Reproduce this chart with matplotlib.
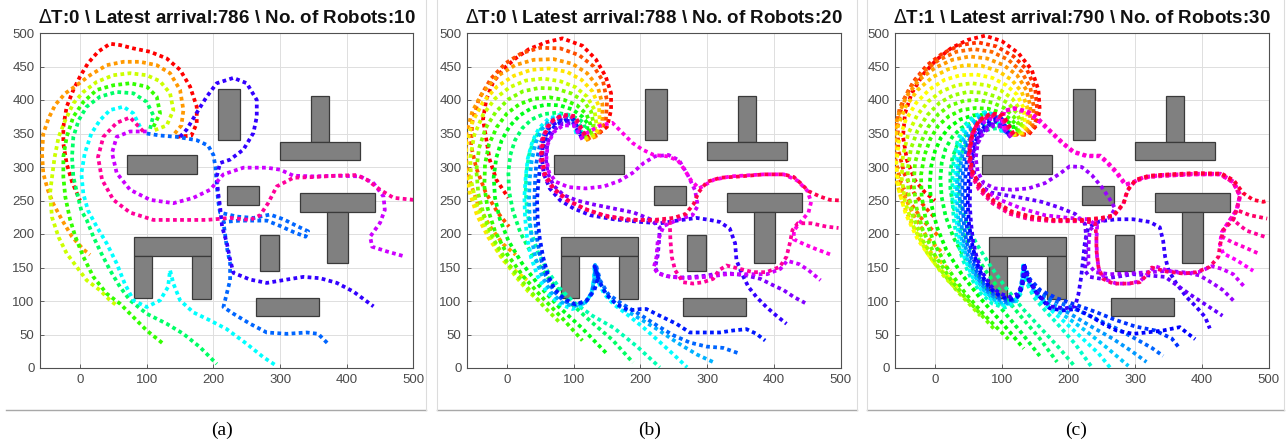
import matplotlib.pyplot as plt
import numpy as np
from matplotlib.colors import hsv_to_rgb
from matplotlib.patches import Rectangle

# obstacles (x, y, width, height), same map in all three runs
obstacles = [(70, 290, 105, 28), (207, 340, 33, 76), (347, 337, 26, 69), (300, 310, 120, 27),
             (221, 243, 47, 29), (330, 233, 112, 28), (370, 157, 32, 76), (270, 145, 28, 53),
             (264, 77, 94, 28), (81, 167, 115, 29), (81, 104, 27, 63), (168, 103, 28, 64)]

titles = [r"$\Delta$T:0 \ Latest arrival:786 \ No. of Robots:10",
          r"$\Delta$T:0 \ Latest arrival:788 \ No. of Robots:20",
          r"$\Delta$T:1 \ Latest arrival:790 \ No. of Robots:30"]
captions = ["(a)", "(b)", "(c)"]
xticks = [0, 100, 200, 300, 400, 500]
yticks = [0, 50, 100, 150, 200, 250, 300, 350, 400, 450, 500]

# robot paths, one list of waypoints per robot (colour order = hsv)
paths_a = [
    [(145,345),(167,347),(175,365),(175,390),(165,420),(150,445),(130,462),(105,472),(80,477),(60,482),(45,484),(27,472),(12,455),(0,435),(-10,415),(-20,390),(-25,360),(-25,335),(-20,305),(-12,278),(0,250)],
    [(142,350),(152,362),(155,385),(150,415),(135,440),(115,452),(90,457),(65,457),(40,452),(15,437),(-5,422),(-22,410),(-37,393),(-47,373),(-55,350),(-57,320),(-55,290),(-48,265),(-40,245),(-27,221),(-12,196),(5,177),(15,169)],
    [(112,355),(130,362),(140,385),(135,410),(120,428),(100,437),(75,440),(50,437),(25,427),(5,412),(-10,395),(-22,370),(-32,345),(-38,315),(-42,285),(-45,260),(-42,225),(-32,195),(-20,171),(-5,151),(10,131),(30,116),(45,101),(57,92)],
    [(110,360),(120,380),(115,405),(100,420),(75,425),(50,422),(25,415),(5,397),(-10,375),(-20,345),(-25,315),(-25,285),(-22,255),(-15,222),(-7,196),(5,166),(20,136),(40,111),(60,96),(80,76),(100,56),(125,36)],
    [(105,357),(110,377),(100,397),(80,410),(55,412),(30,405),(10,390),(-2,370),(-10,345),(-12,315),(-10,285),(-3,255),(2,235),(10,221),(20,196),(32,171),(45,146),(60,121),(75,101),(100,81),(130,66),(155,51),(180,31),(205,6)],
    [(90,360),(80,380),(65,390),(45,385),(30,370),(17,350),(7,320),(2,290),(5,260),(12,235),(25,211),(40,186),(55,156),(67,126),(80,101),(100,91),(120,101),(132,121),(135,146),(140,126),(150,101),(170,83),(195,71),(220,58),(250,36),(275,16),(295,3)],
    [(100,350),(120,347),(145,345),(175,340),(192,332),(200,318),(203,300),(205,275),(207,250),(210,232),(235,226),(260,224),(285,229),(305,222),(325,212),(342,204),(338,196),(320,203),(300,212),(280,220),(240,220),(215,218),(220,181),(225,156),(225,131),(220,111),(215,91),(230,81),(255,66),(280,53),(310,51),(340,53),(357,51),(372,36)],
    [(150,345),(160,356),(175,381),(190,405),(205,425),(230,433),(250,425),(265,400),(265,375),(260,351),(245,326),(225,311),(210,306),(205,286),(207,262),(210,241),(213,211),(220,187),(225,162),(230,142),(255,132),(280,127),(310,132),(335,136),(360,134),(385,127),(410,114),(440,92)],
    [(100,353),(75,353),(55,345),(48,321),(55,291),(75,266),(105,251),(140,246),(170,254),(195,266),(215,289),(245,299),(280,299),(300,296),(320,287),(350,286),(385,287),(420,286),(440,276),(455,256),(457,236),(450,217),(435,196),(438,181),(460,174),(485,167)],
    [(95,353),(75,374),(55,366),(35,345),(27,315),(33,281),(50,251),(75,232),(110,221),(150,221),(190,221),(225,224),(255,221),(270,228),(282,246),(295,271),(320,284),(350,285),(385,287),(415,288),(430,281),(450,266),(470,254),(500,251)],
]

paths_b = [
    [(118,345),(135,348),(150,360),(156,385),(156,410),(148,435),(133,461),(113,481),(83,492),(58,486),(33,476),(14,463),(-6,446),(-21,426),(-31,401),(-36,371),(-31,341),(-26,311),(-16,281),(2,254)],
    [(120,342),(138,348),(148,368),(150,398),(144,428),(130,450),(108,467),(80,477),(50,478),(22,470),(-2,455),(-24,432),(-42,402),(-52,368),(-54,332),(-46,298),(-32,262),(-14,232),(3,211)],
    [(118,340),(135,346),(143,366),(143,394),(136,420),(120,440),(98,454),(70,461),(40,460),(12,452),(-14,436),(-36,412),(-52,383),(-61,350),(-62,315),(-56,280),(-44,245),(-26,212),(-6,185),(13,169)],
    [(116,342),(132,347),(139,365),(138,390),(128,413),(112,430),(90,442),(63,447),(36,445),(10,436),(-15,420),(-36,397),(-52,367),(-61,332),(-62,297),(-56,262),(-45,228),(-28,195),(-5,160),(15,143),(30,131)],
    [(115,344),(129,349),(134,364),(131,386),(120,405),(103,419),(80,428),(54,432),(28,429),(4,419),(-18,402),(-36,378),(-49,348),(-55,314),(-54,280),(-46,245),(-32,210),(-12,172),(12,138),(32,114),(53,96)],
    [(114,346),(126,351),(130,363),(126,383),(114,399),(96,410),(73,417),(48,418),(24,413),(2,401),(-17,382),(-32,358),(-42,328),(-46,295),(-43,260),(-34,225),(-19,190),(2,155),(28,123),(55,92),(81,66)],
    [(113,347),(123,353),(125,364),(119,379),(105,392),(86,400),(64,404),(41,402),(19,394),(0,380),(-15,360),(-27,334),(-33,304),(-34,271),(-29,238),(-18,204),(0,170),(25,136),(55,103),(85,72),(113,41)],
    [(112,348),(120,356),(121,365),(113,375),(98,386),(79,392),(58,393),(37,388),(19,377),(4,361),(-8,340),(-16,314),(-20,285),(-18,254),(-11,223),(2,190),(22,157),(48,123),(78,91),(112,60),(150,21)],
    [(111,349),(117,358),(115,366),(107,372),(92,378),(74,381),(55,379),(37,371),(23,358),(12,340),(5,318),(2,292),(3,264),(9,234),(20,202),(38,168),(62,134),(92,100),(125,70),(158,42),(189,8)],
    [(110,350),(113,358),(108,364),(96,368),(80,370),(64,366),(50,356),(40,340),(33,318),(29,292),(28,264),(30,234),(36,204),(46,174),(60,146),(78,120),(100,98),(128,78),(160,60),(195,32),(229,1)],
    [(104,350),(95,378),(79,378),(62,372),(48,358),(38,338),(31,312),(28,285),(26,255),(27,225),(30,195),(36,165),(46,137),(60,113),(78,96),(98,88),(115,94),(126,110),(130,132),(131,152),(137,128),(146,110),(160,95),(180,80),(205,60),(230,38),(252,18),(270,1)],
    [(106,350),(96,376),(80,376),(64,370),(52,356),(43,336),(37,310),(34,282),(33,252),(34,222),(37,192),(43,163),(53,136),(66,113),(82,98),(100,92),(117,97),(127,112),(131,134),(132,154),(139,128),(150,108),(168,92),(195,76),(225,58),(255,38),(285,20),(311,8)],
    [(108,350),(98,373),(83,372),(68,366),(57,352),(49,332),(44,306),(42,278),(41,250),(42,222),(45,193),(50,165),(58,138),(70,115),(85,100),(102,94),(118,99),(128,114),(132,135),(133,155),(140,130),(152,110),(172,96),(199,80),(224,64),(249,49),(274,38),(299,32),(324,30),(350,21)],
    [(110,350),(100,371),(86,369),(72,362),(62,348),(55,330),(50,305),(47,278),(45,250),(46,222),(49,194),(54,166),(61,140),(71,118),(86,103),(103,95),(120,101),(131,116),(137,136),(131,152),(138,130),(148,111),(163,96),(183,86),(201,88),(209,88),(229,78),(254,66),(274,53),(299,53),(319,53),(339,56),(359,58),(374,51),(387,41)],
    [(112,344),(98,368),(80,370),(64,360),(55,340),(52,315),(55,290),(64,268),(80,250),(100,238),(125,228),(160,222),(200,218),(230,216),(255,220),(284,224),(304,221),(319,218),(334,208),(342,186),(344,161),(352,141),(362,121),(374,106),(389,91),(404,78),(419,66)],
    [(114,342),(100,365),(84,365),(70,355),(61,337),(58,314),(61,291),(70,272),(85,258),(105,250),(130,244),(160,238),(190,232),(215,222),(229,210),(228,190),(226,168),(222,150),(226,142),(240,137),(260,135),(280,136),(300,138),(315,141),(335,141),(359,138),(380,133),(400,123),(415,116),(430,106),(447,97)],
    [(113,341),(100,362),(84,362),(70,352),(61,334),(59,312),(63,292),(73,278),(92,270),(118,268),(145,271),(168,279),(188,291),(205,306),(222,316),(242,318),(258,310),(270,290),(282,265),(286,242),(278,228),(258,222),(235,212),(226,190),(224,165),(220,150),(226,141),(245,136),(270,134),(300,136),(330,140),(360,140),(390,140),(410,148),(420,160),(438,155),(452,146),(470,131)],
    [(118,350),(140,362),(158,366),(168,356),(178,346),(188,336),(203,326),(220,318),(240,316),(256,310),(266,296),(276,280),(288,268),(310,281),(335,286),(385,289),(415,289),(435,280),(450,265),(456,248),(452,232),(440,218),(430,205),(430,192),(445,185),(462,178),(486,169)],
    [(116,346),(100,374),(80,376),(62,364),(52,340),(50,312),(56,286),(70,266),(90,250),(115,238),(145,228),(180,222),(215,220),(244,218),(245,191),(247,166),(252,146),(264,128),(279,126),(294,128),(309,133),(318,146),(329,153),(349,148),(369,143),(389,143),(409,151),(419,166),(424,186),(428,206),(436,216),(456,216),(479,211),(497,209)],
    [(117,348),(102,376),(84,378),(66,368),(55,346),(52,318),(57,290),(70,268),(92,250),(120,236),(150,226),(185,221),(220,221),(250,224),(268,230),(280,245),(287,262),(300,278),(320,284),(350,286),(385,289),(415,289),(430,285),(440,276),(452,264),(469,256),(484,251),(500,250)],
]

paths_c = [
    [(120,350),(140,348),(152,362),(157,385),(155,415),(145,445),(125,470),(100,488),(75,496),(50,490),(25,478),(2,460),(-18,438),(-35,410),(-45,380),(-48,345),(-42,310),(-30,280),(-15,262),(0,250)],
    [(119,349),(138,348),(150,362),(153,388),(150,418),(138,445),(118,465),(92,480),(65,486),(38,482),(12,470),(-12,452),(-32,428),(-48,398),(-56,362),(-55,325),(-46,290),(-32,262),(-15,240),(1,223)],
    [(118,348),(136,349),(146,362),(148,390),(143,418),(130,442),(110,460),(85,472),(58,476),(32,472),(6,460),(-18,442),(-38,418),(-53,388),(-60,352),(-60,315),(-52,280),(-38,248),(-18,220),(6,196)],
    [(117,348),(134,350),(142,364),(143,390),(137,415),(123,437),(103,452),(78,462),(52,465),(26,460),(0,448),(-24,430),(-43,405),(-56,375),(-62,340),(-60,303),(-50,265),(-34,232),(-12,195),(13,170)],
    [(116,348),(132,351),(139,364),(138,390),(130,412),(115,430),(95,443),(70,451),(45,452),(20,446),(-4,434),(-26,415),(-44,390),(-56,360),(-62,325),(-60,288),(-50,250),(-35,215),(-12,178),(23,145)],
    [(115,348),(130,352),(135,364),(133,388),(123,408),(107,422),(86,433),(62,438),(38,437),(14,430),(-8,416),(-28,396),(-44,370),(-54,340),(-58,305),(-55,268),(-44,230),(-26,192),(0,155),(36,121)],
    [(114,348),(128,353),(132,365),(128,385),(116,402),(99,414),(78,422),(55,425),(32,422),(10,413),(-10,398),(-27,377),(-40,350),(-48,318),(-50,284),(-45,248),(-32,210),(-12,172),(15,135),(51,99)],
    [(113,349),(126,354),(129,365),(123,380),(110,395),(92,405),(71,411),(49,412),(27,407),(7,396),(-11,378),(-26,355),(-36,328),(-41,296),(-40,262),(-33,226),(-18,190),(4,152),(33,115),(68,78)],
    [(112,349),(124,355),(125,365),(118,375),(104,388),(86,396),(65,400),(44,399),(23,392),(5,379),(-10,360),(-22,335),(-30,306),(-32,274),(-28,240),(-18,205),(0,168),(25,130),(55,95),(88,59)],
    [(111,350),(121,356),(121,364),(114,371),(99,381),(80,387),(60,388),(40,385),(21,376),(5,362),(-7,342),(-16,317),(-21,288),(-20,256),(-14,222),(-2,188),(18,150),(45,112),(75,78),(110,43)],
    [(110,350),(118,357),(117,363),(110,367),(94,374),(76,378),(57,377),(38,371),(22,360),(9,344),(0,324),(-6,300),(-8,272),(-5,242),(3,210),(17,176),(40,140),(68,104),(100,68),(133,29)],
    [(109,351),(115,357),(112,362),(104,364),(91,367),(73,369),(55,366),(39,358),(26,345),(16,328),(10,306),(8,282),(10,255),(16,226),(28,194),(47,160),(72,124),(100,88),(130,52),(157,18)],
    [(108,351),(112,357),(108,360),(100,361),(88,362),(72,360),(56,355),(43,345),(33,332),(26,314),(23,292),(23,268),(27,242),(36,214),(52,182),(74,148),(100,112),(128,78),(157,44),(183,9)],
    [(107,352),(109,356),(104,358),(96,358),(86,357),(72,354),(59,348),(49,338),(41,324),(36,306),(34,285),(35,262),(40,238),(49,212),(63,184),(82,154),(106,120),(132,88),(160,58),(186,30),(209,3)],
    [(100,352),(90,378),(75,382),(58,376),(44,362),(34,340),(28,312),(26,282),(26,252),(28,222),(33,192),(41,163),(53,136),(68,112),(86,96),(104,90),(120,96),(129,112),(132,134),(132,152),(137,128),(148,106),(165,86),(187,62),(210,36),(236,0)],
    [(102,352),(92,378),(77,381),(60,374),(47,360),(38,338),(32,310),(30,280),(30,250),(32,220),(37,190),(45,162),(56,136),(71,114),(88,99),(105,93),(120,99),(128,114),(131,135),(132,153),(138,128),(150,108),(170,90),(195,68),(220,45),(245,22),(263,0)],
    [(104,352),(94,377),(79,380),(63,373),(50,359),(41,337),(35,309),(33,280),(33,250),(35,220),(40,191),(48,163),(59,138),(73,116),(90,101),(106,95),(120,100),(128,115),(131,136),(132,153),(139,130),(152,110),(172,93),(200,74),(228,54),(258,30),(290,3)],
    [(106,351),(96,376),(82,378),(66,371),(54,357),(45,336),(39,308),(37,279),(37,249),(39,219),(43,190),(51,162),(62,137),(76,116),(92,103),(108,97),(121,102),(128,116),(131,137),(133,154),(140,131),(154,112),(176,96),(204,80),(234,62),(266,44),(295,25),(317,9)],
    [(108,350),(98,374),(85,376),(70,369),(58,355),(49,334),(43,307),(41,278),(41,248),(43,218),(47,189),(55,162),(65,138),(78,118),(94,105),(110,99),(122,104),(129,118),(132,138),(133,155),(141,132),(156,114),(180,100),(210,88),(240,74),(270,60),(300,44),(325,30),(342,18)],
    [(110,349),(100,372),(88,374),(74,367),(62,353),(53,332),(47,305),(45,276),(45,246),(47,216),(51,188),(58,162),(68,138),(81,119),(97,107),(112,101),(124,106),(130,120),(133,140),(133,155),(142,133),(158,116),(183,104),(212,94),(240,84),(270,72),(300,62),(330,56),(355,44),(367,29)],
    [(111,348),(101,370),(90,371),(77,364),(66,350),(57,330),(52,303),(50,274),(49,245),(51,215),(55,188),(61,162),(70,139),(82,120),(97,108),(112,103),(125,108),(131,122),(134,140),(133,155),(140,132),(152,112),(172,89),(192,86),(212,88),(232,78),(252,66),(272,56),(297,51),(317,53),(342,56),(367,61),(377,53),(390,43)],
    [(112,347),(102,368),(92,369),(80,362),(69,349),(60,329),(55,302),(53,274),(52,245),(54,216),(57,189),(63,163),(72,141),(84,122),(98,111),(112,106),(124,111),(130,124),(133,142),(133,155),(140,133),(152,113),(172,92),(195,89),(210,92),(215,110),(219,135),(222,162),(225,190),(230,210),(247,219),(272,222),(297,222),(322,218),(337,210),(342,190),(345,166),(350,146),(362,126),(377,106),(392,91),(405,76),(412,59)],
    [(113,345),(100,362),(85,364),(70,354),(60,336),(56,312),(59,290),(68,272),(84,262),(105,258),(130,254),(160,248),(185,240),(210,230),(225,215),(227,190),(226,165),(225,145),(232,136),(250,133),(272,136),(297,140),(322,138),(345,136),(362,124),(382,110),(402,97),(422,84),(431,78)],
    [(114,344),(101,360),(87,361),(73,352),(64,335),(61,313),(64,293),(73,276),(90,268),(115,266),(140,268),(165,276),(187,290),(202,301),(220,300),(235,288),(250,270),(262,252),(270,238),(262,225),(245,218),(232,206),(230,180),(230,155),(240,143),(262,140),(290,141),(320,143),(350,145),(380,142),(397,138),(417,126),(432,116),(449,99)],
    [(115,346),(100,370),(83,372),(66,363),(56,345),(52,320),(54,296),(63,276),(79,262),(100,250),(130,238),(165,228),(200,224),(230,222),(243,212),(242,190),(243,165),(246,146),(256,132),(272,126),(292,126),(308,130),(318,140),(330,152),(350,145),(372,141),(395,143),(415,152),(430,148),(447,140),(464,121)],
    [(104,356),(100,372),(102,383),(117,387),(137,382),(152,372),(170,355),(190,336),(207,322),(227,316),(247,316),(258,306),(272,291),(285,273),(297,277),(312,284),(337,287),(387,289),(427,289),(447,277),(457,257),(452,236),(440,218),(430,203),(427,185),(432,171),(452,161),(477,145)],
    [(106,356),(102,373),(104,384),(119,388),(139,383),(154,373),(172,355),(192,336),(208,323),(228,317),(248,317),(259,307),(273,292),(286,274),(298,278),(313,285),(338,288),(388,290),(428,290),(448,278),(458,258),(453,237),(441,219),(433,205),(432,195),(445,188),(462,181),(487,170)],
    [(116,347),(100,374),(82,376),(64,366),(54,346),(50,318),(54,290),(66,266),(86,246),(112,230),(142,222),(177,219),(217,219),(247,222),(267,226),(282,244),(288,264),(300,279),(320,285),(350,287),(390,289),(428,289),(447,277),(457,257),(452,236),(447,221),(467,205),(494,196)],
    [(117,348),(101,376),(83,378),(65,368),(55,348),(51,320),(55,292),(67,268),(87,248),(113,232),(143,224),(178,220),(218,220),(240,216),(242,195),(242,176),(245,151),(252,133),(267,126),(287,126),(307,128),(317,138),(325,150),(347,144),(372,141),(392,143),(412,151),(425,166),(427,181),(432,206),(447,221),(452,236),(472,228),(498,223)],
    [(118,349),(102,378),(84,380),(66,370),(56,350),(52,322),(56,294),(68,270),(88,250),(114,234),(144,226),(179,221),(219,221),(249,224),(268,228),(283,246),(289,266),(301,281),(321,287),(351,289),(391,291),(430,290),(448,280),(462,261),(477,251),(492,248),(500,250)],
]

panels = [paths_a, paths_b, paths_c]

W, H = 1286, 443
fig = plt.figure(figsize=(W / 100, H / 100), dpi=100)
plt.rcParams['font.family'] = ['Liberation Sans', 'DejaVu Sans']

ax_left = [40, 467, 895]          # pixel x of each axes
cap_x = [222, 650, 1076]
frames = [(6, 426), (437, 857), (867, 1284)]

for i, paths in enumerate(panels):
    ax = fig.add_axes([ax_left[i] / W, 75 / H, 373.5 / W, 335 / H])
    n = len(paths)
    for k, p in enumerate(paths):
        xy = np.array(p, dtype=float)
        col = hsv_to_rgb((k / n, 1.0, 1.0))
        ax.plot(xy[:, 0], xy[:, 1], color=col, lw=2.7, linestyle=(0, (1, 0.9)),
                dash_capstyle='butt', zorder=3)
    for (x, y, w, h) in obstacles:
        ax.add_patch(Rectangle((x, y), w, h, facecolor='#808080', edgecolor='#3a3a3a',
                               lw=0.9, zorder=2))
    ax.set_xlim(-60, 500)
    ax.set_ylim(0, 500)
    ax.set_xticks(xticks)
    ax.set_yticks(yticks)
    ax.grid(True, color='#dedede', lw=0.7, zorder=0)
    ax.set_axisbelow(True)
    ax.tick_params(direction='in', length=3, width=0.6, labelsize=9.5,
                   colors='#4a4a4a', pad=4)
    for s in ax.spines.values():
        s.set_color('#505050')
        s.set_linewidth(0.8)
    ax.set_title(titles[i], fontsize=13.5, fontweight='bold', pad=7, color='#111111')

    # sub-figure frame and caption
    x0, x1 = frames[i]
    fig.add_artist(plt.Line2D([x0 / W, x1 / W], [1 - 410 / H, 1 - 410 / H],
                              color='#a8a8a8', lw=1.0, transform=fig.transFigure))
    fig.add_artist(plt.Line2D([x1 / W, x1 / W], [1 - 410 / H, 1.0],
                              color='#dcdcdc', lw=0.8, transform=fig.transFigure))
    if i > 0:
        fig.add_artist(plt.Line2D([x0 / W, x0 / W], [1 - 410 / H, 1.0],
                                  color='#dcdcdc', lw=0.8, transform=fig.transFigure))
    fig.text(cap_x[i] / W, 1 - 430 / H, captions[i], ha='center', va='center',
             fontsize=14, family=['Liberation Serif', 'DejaVu Serif'])

fig.savefig('out.png', dpi=100)
